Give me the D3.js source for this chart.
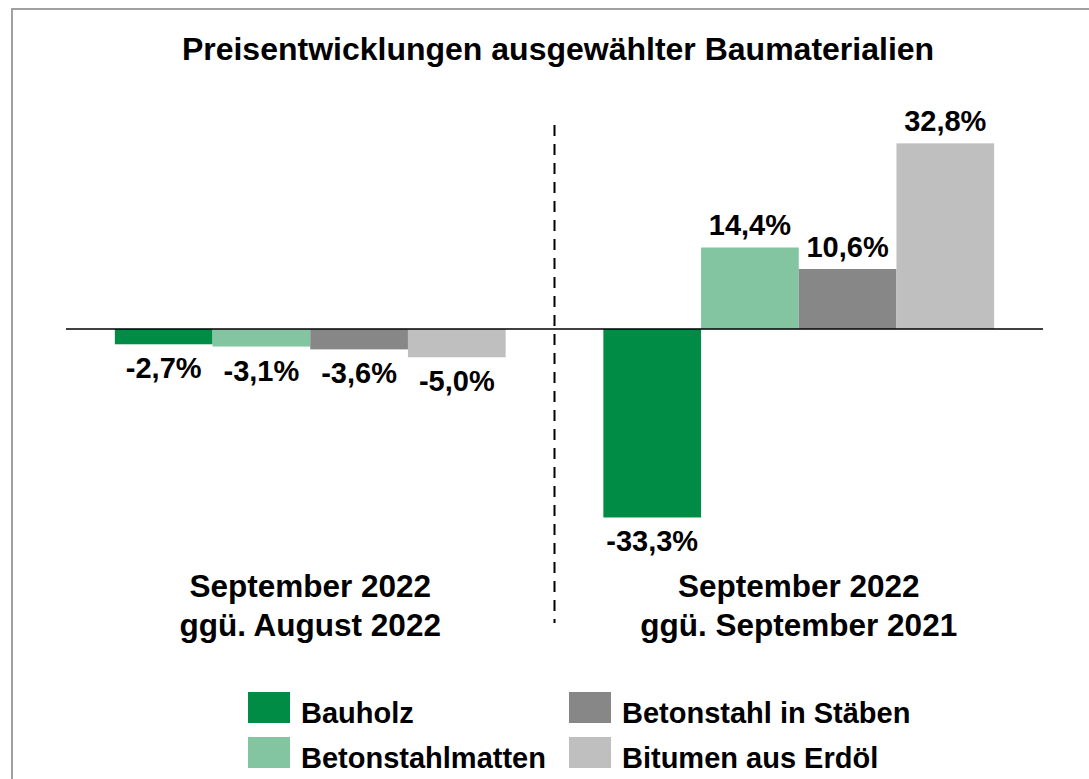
<!DOCTYPE html>
<html>
<head>
<meta charset="utf-8">
<script src="https://cdn.jsdelivr.net/npm/d3@7"></script>
<style>
  body { margin: 0; background: #fff; }
  text { font-family: "Liberation Sans", Arial, sans-serif; font-weight: bold; fill: #000; }
</style>
</head>
<body>
<svg id="chart" width="1089" height="779"></svg>
<script>
// data
var groups = ["g1", "g2"];
var groupLines = [["September 2022", "ggü. August 2022"], ["September 2022", "ggü. September 2021"]];
var series = ["Bauholz", "Betonstahlmatten", "Betonstahl in Stäben", "Bitumen aus Erdöl"];
var colors = ["#008c45", "#82c5a0", "#878787", "#bfbfbf"];
var valuesG1 = [-2.7, -3.1, -3.6, -5.0];
var valuesG2 = [-33.3, 14.4, 10.6, 32.8];
var values = [valuesG1, valuesG2];

var svg = d3.select("#chart");

// frame
svg.append("path")
    .attr("d", "M12,779 L12,9 L1089,9")
    .attr("fill", "none")
    .attr("stroke", "#a0a0a0")
    .attr("stroke-width", 2);

svg.append("text")
    .attr("x", 558).attr("y", 60)
    .attr("text-anchor", "middle")
    .style("font-size", "32px")
    .text("Preisentwicklungen ausgewählter Baumaterialien");

var x0 = d3.scaleBand().domain(groups).range([66, 1043]);
var x1 = d3.scaleBand().domain(series).range([0, x0.bandwidth()]).paddingOuter(0.5);
var y = d3.scaleLinear().domain([-40, 40]).range([555.4, 102.6]);

var fmt = function(v) { return d3.format(".1f")(v).replace(".", ",").replace("−", "-") + "%"; };

var rows = [];
groups.forEach(function(g, gi) {
  series.forEach(function(s, si) {
    rows.push({ g: g, s: s, v: values[gi][si], c: colors[si] });
  });
});

var bars = svg.append("g");
bars.selectAll("rect").data(rows).enter().append("rect")
    .attr("x", function(d) { return x0(d.g) + x1(d.s); })
    .attr("width", x1.bandwidth())
    .attr("y", function(d) { return y(Math.max(0, d.v)); })
    .attr("height", function(d) { return Math.abs(y(d.v) - y(0)); })
    .attr("fill", function(d) { return d.c; });

bars.selectAll("text").data(rows).enter().append("text")
    .attr("x", function(d) { return x0(d.g) + x1(d.s) + x1.bandwidth() / 2; })
    .attr("y", function(d) { return d.v < 0 ? y(d.v) + 34 : y(d.v) - 12; })
    .attr("text-anchor", "middle")
    .style("font-size", "29px")
    .text(function(d) { return fmt(d.v); });

// zero line
svg.append("line")
    .attr("x1", 66).attr("x2", 1043)
    .attr("y1", y(0)).attr("y2", y(0))
    .attr("stroke", "#000").attr("stroke-width", 1.5);

// divider
svg.append("line")
    .attr("x1", x0("g2")).attr("x2", x0("g2"))
    .attr("y1", 125).attr("y2", 623)
    .attr("stroke", "#000").attr("stroke-width", 2)
    .attr("stroke-dasharray", "11,8");

// group labels
groups.forEach(function(g, gi) {
  var t = svg.append("text")
      .attr("x", x0(g) + x0.bandwidth() / 2)
      .attr("y", 597)
      .attr("text-anchor", "middle")
      .style("font-size", "31.5px");
  groupLines[gi].forEach(function(line, li) {
    t.append("tspan").attr("x", x0(g) + x0.bandwidth() / 2).attr("dy", li ? 39 : 0).text(line);
  });
});

// legend
var legendX = [248, 569];
var legendY = [692, 737];
var leg = svg.append("g");
series.forEach(function(s, i) {
  var lx = legendX[Math.floor(i / 2)], ly = legendY[i % 2];
  leg.append("rect").attr("x", lx).attr("y", ly).attr("width", 42).attr("height", 31).attr("fill", colors[i]);
  leg.append("text").attr("x", lx + 53).attr("y", ly + 31).style("font-size", "29px").text(s);
});
</script>
</body>
</html>
